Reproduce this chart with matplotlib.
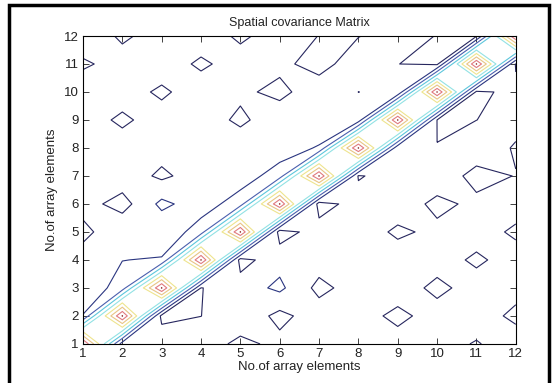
import numpy as np
import matplotlib.pyplot as plt
from matplotlib.patches import Rectangle

plt.rcParams['font.family'] = ['Liberation Sans', 'DejaVu Sans']

# array element index (1..12) on both axes
elements = np.arange(1, 13)

# |R| values, one list per row, listed from element 12 (top) down to element 1
row_12 = [0.180, 0.080, 0.150, 0.160, 0.080, 0.150, 0.098, 0.095, 0.160, 0.095, 0.090, 0.905]
row_11 = [0.080, 0.150, 0.160, 0.080, 0.150, 0.137, 0.040, 0.190, 0.101, 0.080, 0.905, 0.090]
row_10 = [0.180, 0.150, 0.080, 0.160, 0.130, 0.060, 0.190, 0.0995, 0.120, 0.905, 0.080, 0.125]
row_9 = [0.150, 0.080, 0.150, 0.177, 0.070, 0.190, 0.120, 0.150, 0.905, 0.098, 0.099, 0.150]
row_8 = [0.160, 0.150, 0.140, 0.170, 0.190, 0.147, 0.210, 0.905, 0.130, 0.1005, 0.190, 0.085]
row_7 = [0.150, 0.160, 0.080, 0.150, 0.147, 0.250, 0.905, 0.090, 0.150, 0.195, 0.050, 0.105]
row_6 = [0.140, 0.060, 0.225, 0.147, 0.253, 0.905, 0.050, 0.150, 0.190, 0.060, 0.135, 0.150]
row_5 = [0.070, 0.180, 0.120, 0.253, 0.905, 0.050, 0.150, 0.190, 0.070, 0.138, 0.150, 0.080]
row_4 = [0.150, 0.198, 0.210, 0.905, 0.060, 0.165, 0.150, 0.170, 0.185, 0.150, 0.080, 0.150]
row_3 = [0.120, 0.250, 0.905, 0.097, 0.150, 0.222, 0.070, 0.150, 0.160, 0.070, 0.150, 0.145]
row_2 = [0.205, 0.905, 0.070, 0.099, 0.177, 0.070, 0.156, 0.150, 0.070, 0.150, 0.164, 0.070]
row_1 = [0.905, 0.150, 0.170, 0.164, 0.070, 0.130, 0.150, 0.160, 0.150, 0.150, 0.090, 0.170]

R = np.array([row_1, row_2, row_3, row_4, row_5, row_6,
              row_7, row_8, row_9, row_10, row_11, row_12])

levels = [0.1, 0.2, 0.3, 0.4, 0.5, 0.6, 0.7, 0.8, 0.9]
level_colors = ['#26265e', '#2a3580', '#4a5fae', '#5cc6dc', '#92e2e4',
                '#eee48e', '#e8c486', '#e07a80', '#7a0000']

fig = plt.figure(figsize=(5.57, 3.83), dpi=100)
ax = fig.add_axes([0.149, 0.102, 0.777, 0.804])

ax.contour(elements, elements, R, levels=levels, colors=level_colors,
           linewidths=0.8)

ax.set_xlim(1, 12)
ax.set_ylim(1, 12)
ax.set_xticks(elements)
ax.set_yticks(elements)
ax.tick_params(direction='in', length=4, width=0.6, top=True, right=True,
               labelsize=9.5, colors='#222222', pad=3)
for sp in ax.spines.values():
    sp.set_linewidth(0.8)

ax.set_title('Spatial covariance Matrix', fontsize=9, color='#222222', pad=7)
ax.set_xlabel('No.of array elements', fontsize=9.5, color='#222222', labelpad=1)
ax.set_ylabel('No.of array elements', fontsize=9.5, color='#222222', labelpad=4)

# black frame round the figure
fig.patches.append(Rectangle((9 / 557, -0.05), 540 / 557, 1.05 - 5 / 383,
                             transform=fig.transFigure, fill=False,
                             edgecolor='black', linewidth=2.5))

fig.savefig('out.png', dpi=100)
